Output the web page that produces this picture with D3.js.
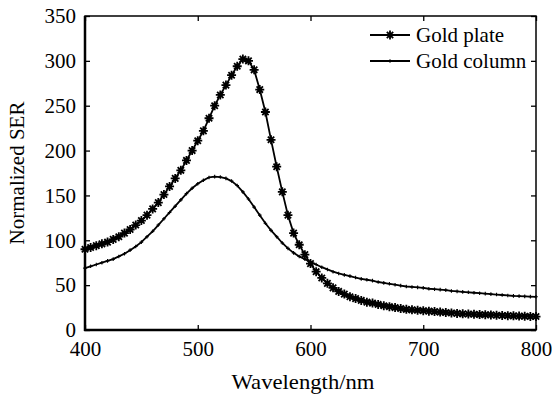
<!DOCTYPE html>
<html>
<head>
<meta charset="utf-8">
<script src="https://cdn.jsdelivr.net/npm/d3@7"></script>
<style>
  html, body { margin: 0; padding: 0; background: #fff; }
  svg text { font-family: "Liberation Serif", "Times New Roman", serif; fill: #000; }
</style>
</head>
<body>
<svg id="chart" width="552" height="399"></svg>
<script>
// Wavelength grid (nm), 5 nm step
const wavelengths = d3.range(400, 801, 5);

// Normalized SER, gold plate
const goldPlate = [
  90, 92, 94, 96, 98, 101, 104, 108, 112, 117,
  122, 128, 135, 142, 151, 160, 169, 178, 189, 200,
  211, 222, 236, 250, 262, 273, 284, 294, 302, 300,
  290, 268, 243, 212, 182, 154, 128, 108, 95, 84,
  74, 65, 58, 52, 47, 43, 40, 37, 35, 33,
  31, 30, 28.5, 27, 26, 25, 24, 23, 22.5, 22,
  21.5, 21, 20.5, 20, 19.5, 19, 18.5, 18, 17.8, 17.5,
  17.2, 17, 16.8, 16.5, 16.2, 16, 15.8, 15.5, 15.3, 15.1,
  15
];

// Normalized SER, gold column
const goldColumn = [
  69, 71, 73, 75, 77, 79, 82, 85, 89, 93,
  98, 104, 110, 117, 124, 131, 138, 145, 152, 158,
  163, 167, 170, 171, 170.5, 169, 166, 161, 154, 146,
  137, 128, 119, 111, 104, 97, 91, 86, 82, 79,
  76, 73, 70, 67.5, 65, 63, 61.5, 60, 58.5, 57,
  56, 55, 53.5, 52.5, 51.5, 50.5, 49.5, 48.5, 48, 47.5,
  47, 46, 45.5, 45, 44.5, 43.5, 43, 42.5, 42, 41.5,
  41, 40.5, 40, 39.5, 39, 38.5, 38, 37.8, 37.5, 37.2,
  37
];

const seriesNames = ["Gold plate", "Gold column"];
const xTicks = [400, 500, 600, 700, 800];
const yTicks = [0, 50, 100, 150, 200, 250, 300, 350];

const svg = d3.select("#chart");
const m = { left: 85, right: 536, top: 16, bottom: 330 };

const x = d3.scaleLinear().domain([400, 800]).range([m.left, m.right]);
const y = d3.scaleLinear().domain([0, 350]).range([m.bottom, m.top]);

const fontSize = 21;
const tickLen = 5;

// frame
svg.append("rect")
  .attr("x", m.left).attr("y", m.top)
  .attr("width", m.right - m.left).attr("height", m.bottom - m.top)
  .attr("fill", "none").attr("stroke", "#000").attr("stroke-width", 1.5);
svg.append("line").attr("x1", m.left).attr("x2", m.left).attr("y1", m.top).attr("y2", m.bottom + 1)
  .attr("stroke", "#000").attr("stroke-width", 2.5);
svg.append("line").attr("x1", m.left - 1).attr("x2", m.right).attr("y1", m.bottom).attr("y2", m.bottom)
  .attr("stroke", "#000").attr("stroke-width", 2.5);

// inward ticks on all four sides
const axB = d3.axisBottom(x).tickValues(xTicks).tickSize(-tickLen).tickPadding(11).tickFormat(d3.format("d"));
const axL = d3.axisLeft(y).tickValues(yTicks).tickSize(-tickLen).tickPadding(9).tickFormat(d3.format("d"));
const axT = d3.axisTop(x).tickValues(xTicks).tickSize(-tickLen).tickFormat("");
const axR = d3.axisRight(y).tickValues(yTicks).tickSize(-tickLen).tickFormat("");

function styleAxis(g) {
  g.select(".domain").remove();
  g.selectAll(".tick line").attr("stroke", "#000").attr("stroke-width", 1.3);
  g.selectAll(".tick text").attr("font-size", fontSize).attr("font-family", "Liberation Serif, serif").attr("fill", "#000");
}
svg.append("g").attr("transform", `translate(0,${m.bottom})`).call(axB).call(styleAxis);
svg.append("g").attr("transform", `translate(${m.left},0)`).call(axL).call(styleAxis);
svg.append("g").attr("transform", `translate(0,${m.top})`).call(axT).call(styleAxis);
svg.append("g").attr("transform", `translate(${m.right},0)`).call(axR).call(styleAxis);

// axis titles
svg.append("text").attr("x", 303).attr("y", 389).attr("text-anchor", "middle")
  .attr("font-size", fontSize).attr("textLength", 143).attr("lengthAdjust", "spacingAndGlyphs")
  .text("Wavelength/nm");
svg.append("text").attr("transform", `translate(24,${(m.top + m.bottom) / 2}) rotate(-90)`)
  .attr("text-anchor", "middle").attr("font-size", fontSize).text("Normalized SER");

// markers
const starPath = (r) => {
  let p = "";
  for (let k = 0; k < 4; k++) {
    const a = k * Math.PI / 4;
    const dx = r * Math.cos(a), dy = r * Math.sin(a);
    p += `M${-dx},${-dy}L${dx},${dy}`;
  }
  return p;
};
function drawStar(g, cx, cy) {
  g.append("path").attr("transform", `translate(${cx},${cy})`).attr("d", starPath(4.5))
    .attr("stroke", "#000").attr("stroke-width", 1.8).attr("fill", "none");
  g.append("circle").attr("cx", cx).attr("cy", cy).attr("r", 2.4).attr("fill", "#000");
}
function drawPlus(g, cx, cy) {
  g.append("path").attr("transform", `translate(${cx},${cy})`).attr("d", "M-1.8,0L1.8,0M0,-1.8L0,1.8")
    .attr("stroke", "#000").attr("stroke-width", 1.1).attr("fill", "none");
}

const line = d3.line().x(d => x(d[0])).y(d => y(d[1]));
const plateData = wavelengths.map((w, i) => [w, goldPlate[i]]);
const columnData = wavelengths.map((w, i) => [w, goldColumn[i]]);

const gCol = svg.append("g");
gCol.append("path").datum(columnData).attr("d", line).attr("fill", "none").attr("stroke", "#000").attr("stroke-width", 1.8);
columnData.forEach(d => drawPlus(gCol, x(d[0]), y(d[1])));

const gPlate = svg.append("g");
gPlate.append("path").datum(plateData).attr("d", line).attr("fill", "none").attr("stroke", "#000").attr("stroke-width", 1.8);
plateData.forEach(d => drawStar(gPlate, x(d[0]), y(d[1])));

// legend
const legend = svg.append("g");
const legRows = [35, 61];
seriesNames.forEach((name, i) => {
  const yy = legRows[i];
  legend.append("line").attr("x1", 370).attr("x2", 410).attr("y1", yy).attr("y2", yy)
    .attr("stroke", "#000").attr("stroke-width", 1.8);
  if (i === 0) drawStar(legend, 390, yy); else drawPlus(legend, 390, yy);
  legend.append("text").attr("x", 416).attr("y", yy + 7).attr("font-size", fontSize).text(name);
});
</script>
</body>
</html>
